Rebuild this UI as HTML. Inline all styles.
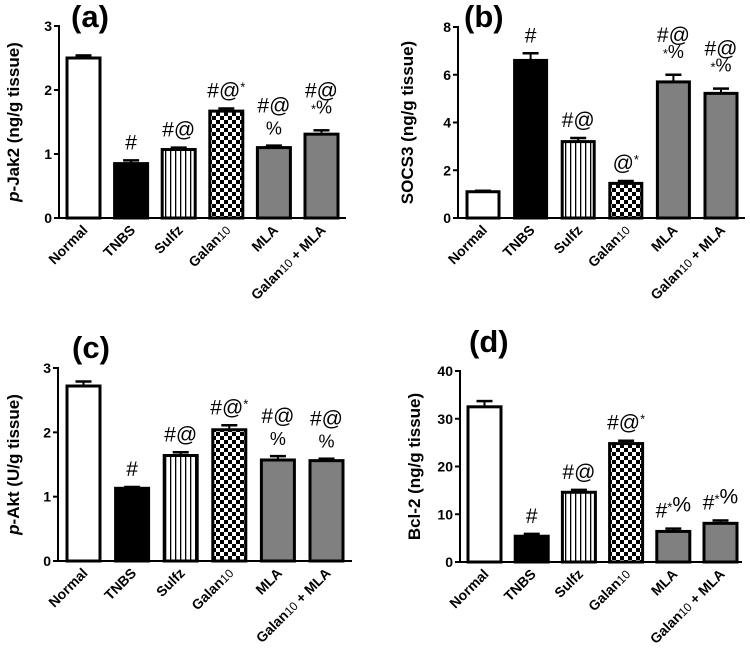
<!DOCTYPE html>
<html><head><meta charset="utf-8"><style>
html,body{margin:0;padding:0;background:#fff;}
svg text{font-family:"Liberation Sans",Arial,sans-serif;}
</style></head><body>
<svg id="fig" width="750" height="647" viewBox="0 0 750 647" xmlns="http://www.w3.org/2000/svg">
<defs>
<pattern id="stripes" width="5" height="10" patternUnits="userSpaceOnUse"><rect width="5" height="10" fill="#fff"/><rect x="0" width="1.3" height="10" fill="#000"/></pattern>
<pattern id="checks" width="8" height="8" patternUnits="userSpaceOnUse"><rect width="8" height="8" fill="#fff"/><rect width="4" height="4" fill="#000"/><rect x="4" y="4" width="4" height="4" fill="#000"/></pattern>
</defs>
</svg>
<script>
const categories = ["Normal","TNBS","Sulfz","Galan10","MLA","Galan10 + MLA"];
const jak2Values = [2.5, 0.85, 1.07, 1.67, 1.1, 1.31];
const jak2Errors = [0.04, 0.05, 0.03, 0.04, 0.03, 0.06];
const jak2Ticks = [0,1,2,3];
const jak2Marks = [[""],["#"],["#@"],["#@*"],["#@","%"],["#@","*%"]];
const socs3Values = [1.1, 6.6, 3.2, 1.45, 5.7, 5.22];
const socs3Errors = [0.04, 0.3, 0.15, 0.1, 0.3, 0.2];
const socs3Ticks = [0,2,4,6,8];
const socs3Marks = [[""],["#"],["#@"],["@*"],["#@","*%"],["#@","*%"]];
const aktValues = [2.72, 1.13, 1.64, 2.04, 1.57, 1.56];
const aktErrors = [0.07, 0.02, 0.05, 0.07, 0.06, 0.03];
const aktTicks = [0,1,2,3];
const aktMarks = [[""],["#"],["#@"],["#@*"],["#@","%"],["#@","%"]];
const bcl2Values = [32.5, 5.4, 14.6, 24.8, 6.4, 8.1];
const bcl2Errors = [1.2, 0.5, 0.5, 0.6, 0.6, 0.6];
const bcl2Ticks = [0,10,20,30,40];
const bcl2Marks = [[""],["#"],["#@"],["#@*"],["#*%"],["#*%"]];

const NS="http://www.w3.org/2000/svg";
const svg=document.getElementById('fig');
const fills=["#fff","#000","url(#stripes)","url(#checks)","#808080","#808080"];
function mk(tag,attrs,parent){const e=document.createElementNS(NS,tag);for(const k in attrs)e.setAttribute(k,attrs[k]);(parent||svg).appendChild(e);return e;}

function panel(p){
  const g=mk('g',{});
  
  
  const y=v=>p.y0-(v/p.max)*(p.y0-p.yTop);
  const bw=p.bw, step=(p.lastX-p.firstX)/5;
  const cx=i=>p.firstX+bw/2+i*step;
  const t=mk('text',{x:p.tx,y:p.ty,'font-size':31,'font-weight':'bold'},g);t.textContent=p.title;
  
  
  const yt=mk('text',{x:0,y:0,'font-size':17,'font-weight':'bold','text-anchor':'middle',transform:`translate(${p.ytx},${(p.y0+p.yTop)/2}) rotate(-90)`},g);
  yt.innerHTML=p.ytitle;
  
  
  p.values.forEach((v,i)=>{
    const x=cx(i)-bw/2, top=y(v), et=y(v+p.errors[i]);
    const eb=mk('line',{x1:cx(i),x2:cx(i),y1:top,y2:et,stroke:'#000','stroke-width':2},g);
    
    
    const cap=mk('line',{x1:cx(i)-8,x2:cx(i)+8,y1:et,y2:et,stroke:'#000','stroke-width':2.5},g);
    
    
    const r=mk('rect',{x:x,y:top,width:bw,height:p.y0-top,fill:fills[i],stroke:'#000','stroke-width':3},g);
    
    
    const m=p.marks[i]; const n=m.length;
    m.forEach((s,j)=>{
      if(!s)return;
      const by=et-11-(n-1-j)*22;
      const small=(j>0);
      const tx=mk('text',{x:cx(i),y:by,'font-size':small?18:21,'text-anchor':'middle'},g);
      tx.innerHTML=s.replace('*','<tspan font-size="13" dy="-6">*</tspan><tspan dy="6"></tspan>');
      
      
    });
    const lab=mk('text',{x:0,y:0,'font-size':14,'font-weight':'bold','text-anchor':'end',transform:`translate(${cx(i)+5},${p.y0+13}) rotate(-45)`},g);
    lab.innerHTML=categories[i].replace('10','<tspan font-weight="normal" font-size="12">10</tspan>');
    
    
  });
  const ya=mk('line',{x1:p.ax,x2:p.ax,y1:p.yTop-1,y2:p.y0,stroke:'#000','stroke-width':2},g);
  
  
  const xa=mk('line',{x1:p.ax-1,x2:p.axEnd,y1:p.y0,y2:p.y0,stroke:'#000','stroke-width':2},g);
  
  
  p.ticks.forEach(tv=>{
    const tl=mk('line',{x1:p.ax-5,x2:p.ax,y1:y(tv),y2:y(tv),stroke:'#000','stroke-width':2},g);
    
    
    const tt=mk('text',{x:p.ax-7,y:y(tv)+5,'font-size':14,'font-weight':'bold','text-anchor':'end'},g);
    tt.textContent=tv;
    
    
  });
}
panel({key:'jak2',title:'(a)',tx:71,ty:27,ytx:19,ytitle:'<tspan font-style="italic">p</tspan>-Jak2 (ng/g tissue)',ax:59,axEnd:346,y0:218,yTop:26,max:3,firstX:67,lastX:305,bw:33,values:jak2Values,errors:jak2Errors,ticks:jak2Ticks,marks:jak2Marks});
panel({key:'socs3',title:'(b)',tx:464,ty:27,ytx:413,ytitle:'SOCS3 (ng/g tissue)',ax:458,axEnd:745,y0:218,yTop:27,max:8,firstX:467,lastX:705,bw:32,values:socs3Values,errors:socs3Errors,ticks:socs3Ticks,marks:socs3Marks});
panel({key:'akt',title:'(c)',tx:72,ty:358,ytx:19,ytitle:'<tspan font-style="italic">p</tspan>-Akt  (U/g tissue)',ax:58,axEnd:352,y0:561,yTop:368,max:3,firstX:67,lastX:310,bw:33,values:aktValues,errors:aktErrors,ticks:aktTicks,marks:aktMarks});
panel({key:'bcl2',title:'(d)',tx:469,ty:352,ytx:420,ytitle:'Bcl-2 (ng/g tissue)',ax:460,axEnd:742,y0:562,yTop:371,max:40,firstX:468,lastX:704,bw:33,values:bcl2Values,errors:bcl2Errors,ticks:bcl2Ticks,marks:bcl2Marks});
</script>
</body></html>
